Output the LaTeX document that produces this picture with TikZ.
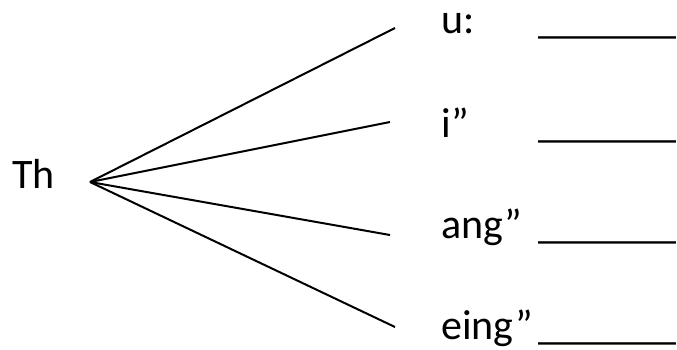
\documentclass[tikz,border=0pt]{standalone}
\usepackage{fontspec}
\setmainfont{Carlito}
\begin{document}
\begin{tikzpicture}[x=1pt,y=-1pt,
  sound/.style={inner sep=0pt,anchor=base west,font=\fontsize{42}{50}\selectfont},
  blank/.style={sound,xscale=1.1},
  branch/.style={line width=2pt}]
  \useasboundingbox (0,0) rectangle (677,349);
  \node[sound] (th) at (12,188) {Th};
  \coordinate (hub) at (90,182);
  \coordinate (uend) at (395,28);
  \coordinate (iend) at (390,122);
  \coordinate (angend) at (390,235);
  \coordinate (eingend) at (395,327);
  \node[sound] (u) at (441,33) {u:};
  \node[sound] (i) at (441,137) {i”};
  \node[sound] (ang) at (441,238) {ang”};
  \node[sound] (eing) at (441,339) {eing”};
  \node[blank] (ublank) at (538,33) {\_\_\_\_\_\_};
  \node[blank] (iblank) at (538,137) {\_\_\_\_\_\_};
  \node[blank] (angblank) at (538,238) {\_\_\_\_\_\_};
  \node[blank] (eingblank) at (538,339) {\_\_\_\_\_\_};
  \draw[branch] (hub) -- (uend);
  \draw[branch] (hub) -- (iend);
  \draw[branch] (hub) -- (angend);
  \draw[branch] (hub) -- (eingend);
\end{tikzpicture}
\end{document}
